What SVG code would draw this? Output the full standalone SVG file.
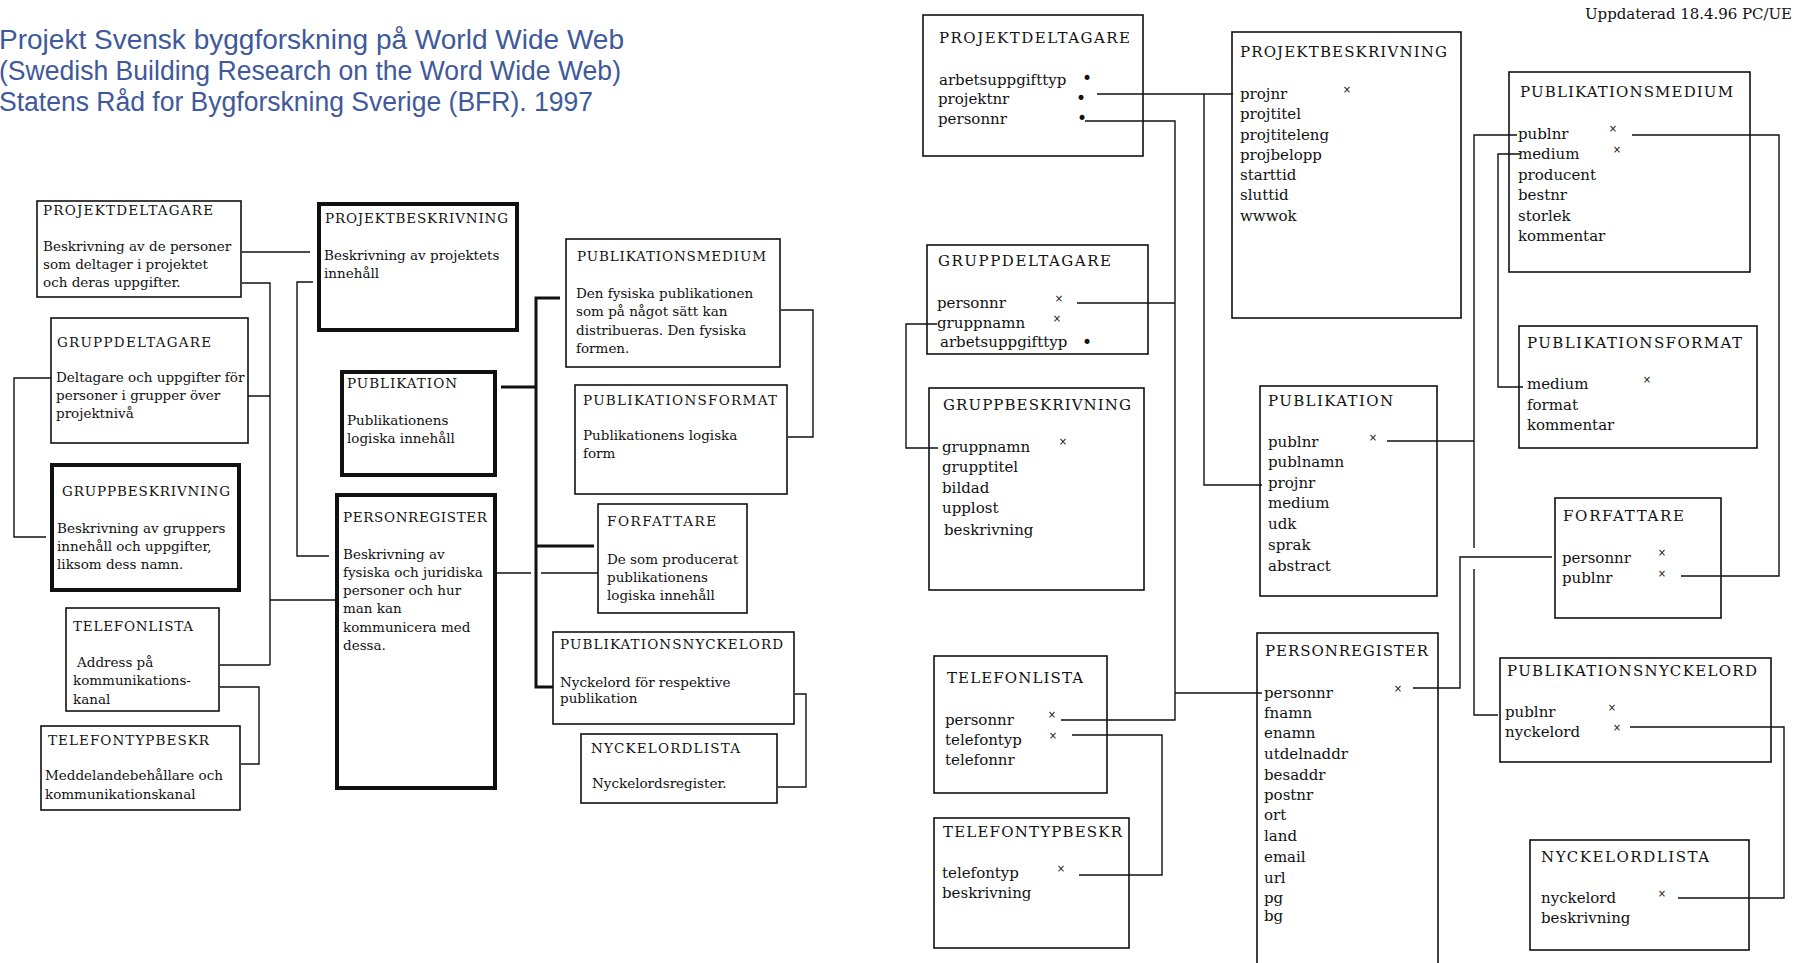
<svg xmlns="http://www.w3.org/2000/svg" width="1798" height="963" viewBox="0 0 1798 963">
<style>
  .hd {font-family:"Liberation Sans",Arial,sans-serif; font-size:27px; fill:#40599b;}
  .t {font-family:"DejaVu Serif","Liberation Serif",serif; fill:#111;}
  .ls {font-size:13.5px;}
  .rs {font-size:15px;}
  .mk {font-family:"DejaVu Sans",sans-serif; font-size:10px; fill:#111; text-anchor:middle;}
  .bl {font-family:"DejaVu Sans",sans-serif; font-size:17px; fill:#111; text-anchor:middle;}
  .box {fill:#fff; stroke:#111; stroke-width:1.6;}
  .thk {fill:#fff; stroke:#111; stroke-width:4;}
  .ln {fill:none; stroke:#111; stroke-width:1.4;}
  .bus {fill:none; stroke:#111; stroke-width:3;}
</style>
<rect width="1798" height="963" fill="#fff"/>

<!-- heading -->
<g id="heading">
  <text class="hd" x="-1" y="49" textLength="625" lengthAdjust="spacingAndGlyphs">Projekt Svensk byggforskning på World Wide Web</text>
  <text class="hd" x="-1" y="80" textLength="622" lengthAdjust="spacingAndGlyphs">(Swedish Building Research on the Word Wide Web)</text>
  <text class="hd" x="-1" y="111" textLength="594" lengthAdjust="spacingAndGlyphs">Statens Råd for Bygforskning Sverige (BFR). 1997</text>
</g>
<text id="updated" class="t rs" x="1585" y="19" textLength="207" lengthAdjust="spacing">Uppdaterad 18.4.96 PC/UE</text>

<!-- ===== overview model: entity descriptions ===== -->
<g id="ov-projektdeltagare">
  <rect class="box" x="37" y="201" width="204" height="96"/>
  <text class="t ls" x="43" y="215" textLength="170" lengthAdjust="spacing">PROJEKTDELTAGARE</text>
  <text class="t ls" x="43" y="251">Beskrivning av de personer</text>
  <text class="t ls" x="43" y="269">som deltager i projektet</text>
  <text class="t ls" x="43" y="287">och deras uppgifter.</text>
</g>
<g id="ov-gruppdeltagare">
  <rect class="box" x="51" y="318" width="197" height="125"/>
  <text class="t ls" x="57" y="347" textLength="154" lengthAdjust="spacing">GRUPPDELTAGARE</text>
  <text class="t ls" x="56" y="382">Deltagare och uppgifter för</text>
  <text class="t ls" x="56" y="400">personer i grupper över</text>
  <text class="t ls" x="56" y="418">projektnivå</text>
</g>
<g id="ov-gruppbeskrivning">
  <rect class="thk" x="52" y="465" width="187" height="125"/>
  <text class="t ls" x="62" y="496" textLength="168" lengthAdjust="spacing">GRUPPBESKRIVNING</text>
  <text class="t ls" x="57" y="533">Beskrivning av gruppers</text>
  <text class="t ls" x="57" y="551">innehåll och uppgifter,</text>
  <text class="t ls" x="57" y="569">liksom dess namn.</text>
</g>
<g id="ov-telefonlista">
  <rect class="box" x="66" y="608" width="153" height="103"/>
  <text class="t ls" x="73" y="631" textLength="120" lengthAdjust="spacing">TELEFONLISTA</text>
  <text class="t ls" x="77" y="667">Address på</text>
  <text class="t ls" x="73" y="685">kommunikations-</text>
  <text class="t ls" x="73" y="704">kanal</text>
</g>
<g id="ov-telefontypbeskr">
  <rect class="box" x="41" y="726" width="199" height="84"/>
  <text class="t ls" x="48" y="745" textLength="161" lengthAdjust="spacing">TELEFONTYPBESKR</text>
  <text class="t ls" x="45" y="780">Meddelandebehållare och</text>
  <text class="t ls" x="45" y="799">kommunikationskanal</text>
</g>
<g id="ov-projektbeskrivning">
  <rect class="thk" x="319" y="204" width="198" height="126"/>
  <text class="t ls" x="325" y="223" textLength="183" lengthAdjust="spacing">PROJEKTBESKRIVNING</text>
  <text class="t ls" x="324" y="260">Beskrivning  av projektets</text>
  <text class="t ls" x="324" y="278">innehåll</text>
</g>
<g id="ov-publikation">
  <rect class="thk" x="342" y="372" width="153" height="103"/>
  <text class="t ls" x="347" y="388" textLength="110" lengthAdjust="spacing">PUBLIKATION</text>
  <text class="t ls" x="347" y="425">Publikationens</text>
  <text class="t ls" x="347" y="443">logiska innehåll</text>
</g>
<g id="ov-personregister">
  <rect class="thk" x="337" y="495" width="158" height="293"/>
  <text class="t ls" x="343" y="522" textLength="144" lengthAdjust="spacing">PERSONREGISTER</text>
  <text class="t ls" x="343" y="559">Beskrivning av</text>
  <text class="t ls" x="343" y="577">fysiska och juridiska</text>
  <text class="t ls" x="343" y="595">personer och hur</text>
  <text class="t ls" x="343" y="613">man kan</text>
  <text class="t ls" x="343" y="632">kommunicera med</text>
  <text class="t ls" x="343" y="650">dessa.</text>
</g>
<g id="ov-publikationsmedium">
  <rect class="box" x="566" y="239" width="214" height="128"/>
  <text class="t ls" x="577" y="261" textLength="189" lengthAdjust="spacing">PUBLIKATIONSMEDIUM</text>
  <text class="t ls" x="576" y="298">Den fysiska publikationen</text>
  <text class="t ls" x="576" y="316">som på något sätt kan</text>
  <text class="t ls" x="576" y="335">distribueras. Den fysiska</text>
  <text class="t ls" x="576" y="353">formen.</text>
</g>
<g id="ov-publikationsformat">
  <rect class="box" x="575" y="385" width="212" height="109"/>
  <text class="t ls" x="583" y="405" textLength="194" lengthAdjust="spacing">PUBLIKATIONSFORMAT</text>
  <text class="t ls" x="583" y="440">Publikationens logiska</text>
  <text class="t ls" x="583" y="458">form</text>
</g>
<g id="ov-forfattare">
  <rect class="box" x="598" y="504" width="149" height="109"/>
  <text class="t ls" x="607" y="526" textLength="109" lengthAdjust="spacing">FORFATTARE</text>
  <text class="t ls" x="607" y="564">De som producerat</text>
  <text class="t ls" x="607" y="582">publikationens</text>
  <text class="t ls" x="607" y="600">logiska innehåll</text>
</g>
<g id="ov-publikationsnyckelord">
  <rect class="box" x="553" y="632" width="241" height="92"/>
  <text class="t ls" x="560" y="649" textLength="223" lengthAdjust="spacing">PUBLIKATIONSNYCKELORD</text>
  <text class="t ls" x="560" y="687">Nyckelord för respektive</text>
  <text class="t ls" x="560" y="703">publikation</text>
</g>
<g id="ov-nyckelordlista">
  <rect class="box" x="581" y="734" width="196" height="69"/>
  <text class="t ls" x="591" y="753" textLength="149" lengthAdjust="spacing">NYCKELORDLISTA</text>
  <text class="t ls" x="592" y="788">Nyckelordsregister.</text>
</g>

<!-- ===== detailed model: tables with fields ===== -->
<g id="tb-projektdeltagare">
  <rect class="box" x="923" y="15" width="220" height="141"/>
  <text class="t rs" x="939" y="43" textLength="191" lengthAdjust="spacing">PROJEKTDELTAGARE</text>
  <text class="t rs" x="939" y="85">arbetsuppgifttyp</text>
  <text class="t rs" x="938" y="104">projektnr</text>
  <text class="t rs" x="938" y="124">personnr</text>
  <text class="bl" x="1087" y="84">•</text>
  <text class="bl" x="1081" y="104">•</text>
  <text class="bl" x="1082" y="124">•</text>
</g>
<g id="tb-projektbeskrivning">
  <rect class="box" x="1232" y="32" width="229" height="286"/>
  <text class="t rs" x="1240" y="57" textLength="207" lengthAdjust="spacing">PROJEKTBESKRIVNING</text>
  <text class="t rs" x="1240" y="99">projnr</text>
  <text class="t rs" x="1240" y="119">projtitel</text>
  <text class="t rs" x="1240" y="140">projtiteleng</text>
  <text class="t rs" x="1240" y="160">projbelopp</text>
  <text class="t rs" x="1240" y="180">starttid</text>
  <text class="t rs" x="1240" y="200">sluttid</text>
  <text class="t rs" x="1240" y="221">wwwok</text>
  <text class="mk" x="1347" y="92.5">×</text>
</g>
<g id="tb-publikationsmedium">
  <rect class="box" x="1509" y="72" width="241" height="200"/>
  <text class="t rs" x="1520" y="97" textLength="213" lengthAdjust="spacing">PUBLIKATIONSMEDIUM</text>
  <text class="t rs" x="1518" y="139">publnr</text>
  <text class="t rs" x="1518" y="159">medium</text>
  <text class="t rs" x="1518" y="180">producent</text>
  <text class="t rs" x="1518" y="200">bestnr</text>
  <text class="t rs" x="1518" y="221">storlek</text>
  <text class="t rs" x="1518" y="241">kommentar</text>
  <text class="mk" x="1613" y="131.5">×</text>
  <text class="mk" x="1617" y="152.5">×</text>
</g>
<g id="tb-gruppdeltagare">
  <rect class="box" x="927" y="245" width="221" height="109"/>
  <text class="t rs" x="938" y="266" textLength="173" lengthAdjust="spacing">GRUPPDELTAGARE</text>
  <text class="t rs" x="937" y="308">personnr</text>
  <text class="t rs" x="937" y="328">gruppnamn</text>
  <text class="t rs" x="940" y="347">arbetsuppgifttyp</text>
  <text class="mk" x="1059" y="301.5">×</text>
  <text class="mk" x="1057" y="321.5">×</text>
  <text class="bl" x="1087" y="348">•</text>
</g>
<g id="tb-gruppbeskrivning">
  <rect class="box" x="929" y="388" width="215" height="202"/>
  <text class="t rs" x="943" y="410" textLength="188" lengthAdjust="spacing">GRUPPBESKRIVNING</text>
  <text class="t rs" x="942" y="452">gruppnamn</text>
  <text class="t rs" x="942" y="472">grupptitel</text>
  <text class="t rs" x="942" y="493">bildad</text>
  <text class="t rs" x="942" y="513">upplost</text>
  <text class="t rs" x="944" y="535">beskrivning</text>
  <text class="mk" x="1063" y="444.5">×</text>
</g>
<g id="tb-publikation">
  <rect class="box" x="1260" y="386" width="177" height="210"/>
  <text class="t rs" x="1268" y="406" textLength="125" lengthAdjust="spacing">PUBLIKATION</text>
  <text class="t rs" x="1268" y="447">publnr</text>
  <text class="t rs" x="1268" y="467">publnamn</text>
  <text class="t rs" x="1268" y="488">projnr</text>
  <text class="t rs" x="1268" y="508">medium</text>
  <text class="t rs" x="1268" y="529">udk</text>
  <text class="t rs" x="1268" y="550">sprak</text>
  <text class="t rs" x="1268" y="571">abstract</text>
  <text class="mk" x="1373" y="440.5">×</text>
</g>
<g id="tb-publikationsformat">
  <rect class="box" x="1519" y="326" width="238" height="122"/>
  <text class="t rs" x="1527" y="348" textLength="215" lengthAdjust="spacing">PUBLIKATIONSFORMAT</text>
  <text class="t rs" x="1527" y="389">medium</text>
  <text class="t rs" x="1527" y="410">format</text>
  <text class="t rs" x="1527" y="430">kommentar</text>
  <text class="mk" x="1647" y="382.5">×</text>
</g>
<g id="tb-forfattare">
  <rect class="box" x="1555" y="498" width="166" height="120"/>
  <text class="t rs" x="1563" y="521" textLength="121" lengthAdjust="spacing">FORFATTARE</text>
  <text class="t rs" x="1562" y="563">personnr</text>
  <text class="t rs" x="1562" y="583">publnr</text>
  <text class="mk" x="1662" y="555.5">×</text>
  <text class="mk" x="1662" y="576.5">×</text>
</g>
<g id="tb-telefonlista">
  <rect class="box" x="934" y="656" width="173" height="137"/>
  <text class="t rs" x="947" y="683" textLength="136" lengthAdjust="spacing">TELEFONLISTA</text>
  <text class="t rs" x="945" y="725">personnr</text>
  <text class="t rs" x="945" y="745">telefontyp</text>
  <text class="t rs" x="945" y="765">telefonnr</text>
  <text class="mk" x="1052" y="717.5">×</text>
  <text class="mk" x="1053" y="738.5">×</text>
</g>
<g id="tb-telefontypbeskr">
  <rect class="box" x="934" y="818" width="195" height="130"/>
  <text class="t rs" x="943" y="837" textLength="179" lengthAdjust="spacing">TELEFONTYPBESKR</text>
  <text class="t rs" x="942" y="878">telefontyp</text>
  <text class="t rs" x="942" y="898">beskrivning</text>
  <text class="mk" x="1061" y="871.5">×</text>
</g>
<g id="tb-personregister">
  <rect class="box" x="1257" y="633" width="181" height="360"/>
  <text class="t rs" x="1265" y="656" textLength="163" lengthAdjust="spacing">PERSONREGISTER</text>
  <text class="t rs" x="1264" y="698">personnr</text>
  <text class="t rs" x="1264" y="718">fnamn</text>
  <text class="t rs" x="1264" y="738">enamn</text>
  <text class="t rs" x="1264" y="759">utdelnaddr</text>
  <text class="t rs" x="1264" y="780">besaddr</text>
  <text class="t rs" x="1264" y="800">postnr</text>
  <text class="t rs" x="1264" y="820">ort</text>
  <text class="t rs" x="1264" y="841">land</text>
  <text class="t rs" x="1264" y="862">email</text>
  <text class="t rs" x="1264" y="883">url</text>
  <text class="t rs" x="1264" y="903">pg</text>
  <text class="t rs" x="1264" y="921">bg</text>
  <text class="mk" x="1398" y="691.5">×</text>
</g>
<g id="tb-publikationsnyckelord">
  <rect class="box" x="1500" y="658" width="271" height="104"/>
  <text class="t rs" x="1507" y="676" textLength="250" lengthAdjust="spacing">PUBLIKATIONSNYCKELORD</text>
  <text class="t rs" x="1505" y="717">publnr</text>
  <text class="t rs" x="1505" y="737">nyckelord</text>
  <text class="mk" x="1612" y="710.5">×</text>
  <text class="mk" x="1617" y="730.5">×</text>
</g>
<g id="tb-nyckelordlista">
  <rect class="box" x="1530" y="840" width="219" height="110"/>
  <text class="t rs" x="1541" y="862" textLength="168" lengthAdjust="spacing">NYCKELORDLISTA</text>
  <text class="t rs" x="1541" y="903">nyckelord</text>
  <text class="t rs" x="1541" y="923">beskrivning</text>
  <text class="mk" x="1662" y="896.5">×</text>
</g>

<!-- ===== connectors ===== -->
<g id="connectors">
  <!-- overview model -->
  <path class="ln" d="M242,252 H310"/>
  <path class="ln" d="M242,283 H270 V665 M248,396 H270 M270,600 H335 M220,665 H270"/>
  <path class="ln" d="M313,282 H297 V556 H329"/>
  <path class="ln" d="M51,378 H14 V537 H46"/>
  <path class="ln" d="M220,687 H259 V764 H241"/>
  <path class="bus" d="M560,298 H536 V687 H553 M501,387 H536 M536,546 H594"/>
  <path class="ln" d="M497,573 H531 M541,573 H598"/>
  <path class="ln" d="M781,310 H813 V437 H788"/>
  <path class="ln" d="M795,694 H806 V787 H778"/>
  <!-- detailed model -->
  <path class="ln" d="M1097,94 H1233 M1204,94 V485 H1262"/>
  <path class="ln" d="M1085,121 H1175 V720 H1061 M1077,303 H1175 M1175,693 H1262"/>
  <path class="ln" d="M937,324 H906 V448 H938"/>
  <path class="ln" d="M1387,441 H1474 M1517,135 H1474 V548 M1474,569 V715 H1498"/>
  <path class="ln" d="M1520,154 H1498 V387 H1523"/>
  <path class="ln" d="M1632,135 H1779 V576 H1681"/>
  <path class="ln" d="M1552,557 H1460 V688 H1413"/>
  <path class="ln" d="M1630,727 H1784 V898 H1678"/>
  <path class="ln" d="M1072,735 H1162 V875 H1079"/>
</g>
</svg>
